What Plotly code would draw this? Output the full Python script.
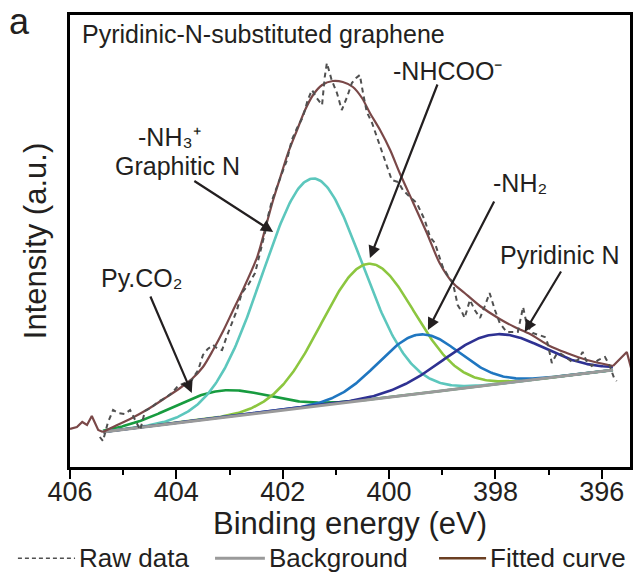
import numpy as np
import plotly.graph_objects as go

FONT = "Liberation Sans, Arial, Helvetica, sans-serif"
INK = "#231f20"

# Measured N 1s spectrum: binding energy (eV) and intensity (a.u.)
raw_energy = [405.44, 405.38, 405.29, 405.19, 405.10, 404.97, 404.87, 404.78, 404.68, 404.59,
              404.46, 404.35, 404.21, 404.08, 403.97, 403.84, 403.71, 403.59, 403.50, 403.41,
              403.31, 403.22, 403.14, 403.05, 402.95, 402.86, 402.77, 402.65, 402.52, 402.43,
              402.33, 402.28, 402.20, 402.11, 402.02, 401.92, 401.83, 401.73, 401.62, 401.53,
              401.45, 401.36, 401.26, 401.21, 401.17, 401.08, 400.98, 400.89, 400.79, 400.70,
              400.62, 400.55, 400.49, 400.42, 400.32, 400.21, 400.12, 400.02, 399.95, 399.83,
              399.74, 399.61, 399.48, 399.33, 399.23, 399.14, 398.99, 398.89, 398.80, 398.71,
              398.63, 398.58, 398.48, 398.39, 398.29, 398.20, 398.11, 398.01, 397.92, 397.79,
              397.67, 397.58, 397.48, 397.41, 397.30, 397.17, 397.07, 397.02, 396.94, 396.86,
              396.79, 396.68, 396.56, 396.45, 396.36, 396.28, 396.19, 396.07, 395.94, 395.85,
              395.77, 395.72]
raw_intensity = [30, 26, 44, 57, 54, 53, 57, 47, 37, 56,
                 60, 65, 69, 74, 81, 84, 87, 97, 112, 118,
                 122, 118, 117, 131, 144, 157, 174, 182, 194, 214,
                 235, 250, 267, 280, 292, 307, 327, 339, 350, 367,
                 377, 369, 362, 390, 404, 387, 374, 357, 370, 384,
                 389, 392, 374, 355, 344, 327, 314, 297, 287, 285,
                 277, 270, 264, 247, 230, 224, 200, 191, 184, 162,
                 155, 149, 167, 157, 149, 161, 174, 157, 144, 135,
                 135, 135, 160, 142, 134, 132, 130, 124, 104, 112,
                 114, 110, 105, 107, 115, 105, 101, 107, 110, 101,
                 89, 86]

# Fitted envelope over the fitting window
fit_energy = [405.38, 405.15, 404.87, 404.53, 404.21, 403.93, 403.71, 403.50, 403.31, 403.12,
              402.94, 402.75, 402.48, 402.30, 402.18, 402.05, 401.90, 401.73, 401.58, 401.43,
              401.26, 401.06, 400.87, 400.68, 400.51, 400.36, 400.17, 399.98, 399.80, 399.57,
              399.29, 399.05, 398.80, 398.58, 398.29, 397.92, 397.64, 397.35, 396.98, 396.66,
              396.28, 395.79]
fit_intensity = [35, 41, 48, 58, 69, 79, 88, 100, 117, 136,
                 156, 177, 210, 244, 267, 289, 314, 337, 357, 372,
                 382, 386, 385, 380, 369, 354, 337, 317, 294, 267,
                 234, 204, 184, 174, 161, 148, 140, 133, 121, 114,
                 107, 101]

# Spectrum outside the fitting window, drawn in the envelope colour
edge_low_energy = [406.00, 405.87, 405.77, 405.68, 405.59, 405.47, 405.38]
edge_low_intensity = [38, 40, 45, 42, 51, 37, 35]
edge_high_energy = [395.79, 395.53, 395.44]
edge_high_intensity = [101, 115, 97]

# Linear background between the ends of the fitting window
bg_energy = [405.38, 395.79]
bg_intensity = [35, 97]

# Fitted components: centre (eV), height above background (a.u.), FWHM (eV)
peak_names = ["Py.CO2", "Graphitic N", "-NHCOO-", "-NH2", "Pyridinic N"]
peak_centers = [403.18, 401.45, 400.40, 399.44, 398.04]
peak_heights = [27, 228, 136, 59, 50]
peak_fwhm = [2.1, 2.2, 2.05, 1.8, 2.25]
peak_colors = ["#179b3f", "#5cc7bd", "#8cc63f", "#1f76c0", "#2e3192"]

FIT_COLOR = "#7a4848"
RAW_COLOR = "#505050"
BG_COLOR = "#9a9a9a"

energy_grid = np.linspace(bg_energy[0], bg_energy[1], 400)
background = np.interp(energy_grid, bg_energy[::-1], bg_intensity[::-1])

fig = go.Figure()

for name, c, h, w, col in zip(peak_names, peak_centers, peak_heights, peak_fwhm, peak_colors):
    sigma = w / (2 * np.sqrt(2 * np.log(2)))
    comp = background + h * np.exp(-((energy_grid - c) ** 2) / (2 * sigma ** 2))
    fig.add_trace(go.Scatter(x=energy_grid, y=comp, mode="lines", name=name,
                             line=dict(color=col, width=2.6)))

fig.add_trace(go.Scatter(x=bg_energy, y=bg_intensity, mode="lines", name="Background",
                         line=dict(color=BG_COLOR, width=3)))
fig.add_trace(go.Scatter(x=fit_energy, y=fit_intensity, mode="lines", name="Fitted curve",
                         line=dict(color=FIT_COLOR, width=2.2, shape="spline", smoothing=0.8)))
for ex, ey in ((edge_low_energy, edge_low_intensity), (edge_high_energy, edge_high_intensity)):
    fig.add_trace(go.Scatter(x=ex, y=ey, mode="lines", line=dict(color=FIT_COLOR, width=2.2)))
fig.add_trace(go.Scatter(x=raw_energy, y=raw_intensity, mode="lines", name="Raw data",
                         line=dict(color=RAW_COLOR, width=2, dash="5px,4px")))

# Peak labels and their pointers
labels = [
    ("-NH₃⁺", 404.12, 330),
    ("Graphitic N", 403.97, 301),
    ("Py.CO₂", 404.65, 189),
    ("-NHCOO⁻", 398.91, 396),
    ("-NH₂", 397.54, 284),
    ("Pyridinic N", 396.79, 212),
]
for text, x, y in labels:
    fig.add_annotation(x=x, y=y, text=text, showarrow=False, xanchor="center", yanchor="middle",
                       font=dict(family=FONT, size=25, color=INK))

pointers = [
    (403.69, 287, 402.18, 235),
    (404.50, 172, 403.71, 74),
    (399.08, 384, 400.36, 209),
    (398.01, 267, 399.27, 137),
    (396.75, 197, 397.45, 135),
]
for tx, ty, hx, hy in pointers:
    fig.add_annotation(x=hx, y=hy, ax=tx, ay=ty, axref="x", ayref="y", text="",
                       showarrow=True, arrowhead=2, arrowsize=1.1, arrowwidth=2.2,
                       arrowcolor=INK)

fig.add_annotation(x=405.81, y=433, text="Pyridinic-N-substituted graphene", showarrow=False,
                   xanchor="left", yanchor="middle", font=dict(family=FONT, size=25, color=INK))
fig.add_annotation(xref="paper", yref="paper", x=-0.091, y=0.985, text="a", showarrow=False,
                   xanchor="center", yanchor="middle", font=dict(family=FONT, size=36, color=INK))

# Energy-axis title, set close under the tick labels
fig.add_annotation(xref="paper", yref="paper", x=0.5, y=-0.126, text="Binding energy (eV)",
                   showarrow=False, xanchor="center", yanchor="middle",
                   font=dict(family=FONT, size=31, color=INK))

# Key below the axis: line sample followed by its label
key_y = -0.202
key_items = [
    ("Raw data", RAW_COLOR, 1.6, "4px,3px", -0.093, 0.009),
    ("Background", BG_COLOR, 3, "solid", 0.259, 0.348),
    ("Fitted curve", "#6b3f22", 2.5, "solid", 0.659, 0.743),
]
for text, col, width, dash, x0, x1 in key_items:
    fig.add_shape(type="line", xref="paper", yref="paper", x0=x0, x1=x1, y0=key_y, y1=key_y,
                  line=dict(color=col, width=width, dash=dash))
    fig.add_annotation(xref="paper", yref="paper", x=x1 + 0.004, y=key_y, text=text,
                       showarrow=False, xanchor="left", yanchor="middle",
                       font=dict(family=FONT, size=26, color=INK))

fig.update_xaxes(
    range=[406, 395.47], tick0=396, dtick=2, ticks="outside", ticklen=9, tickwidth=2,
    tickcolor="black", showline=True, linewidth=2.5, linecolor="black", mirror=True,
    showgrid=False, zeroline=False, ticklabelstandoff=-10,
    tickfont=dict(family=FONT, size=27, color=INK),
    minor=dict(dtick=1, ticks="outside", ticklen=5, tickwidth=2, tickcolor="black", showgrid=False),
)
fig.update_yaxes(
    range=[0, 452], showticklabels=False, ticks="", showline=True, linewidth=2.5,
    linecolor="black", mirror=True, showgrid=False, zeroline=False,
    title=dict(text="Intensity (a.u.)", font=dict(family=FONT, size=31, color=INK), standoff=12),
)

fig.update_layout(
    width=637, height=577,
    margin=dict(l=70, r=7, t=15, b=110, autoexpand=False),
    paper_bgcolor="white", plot_bgcolor="white",
    showlegend=False,
)

fig.write_html("out.html")
